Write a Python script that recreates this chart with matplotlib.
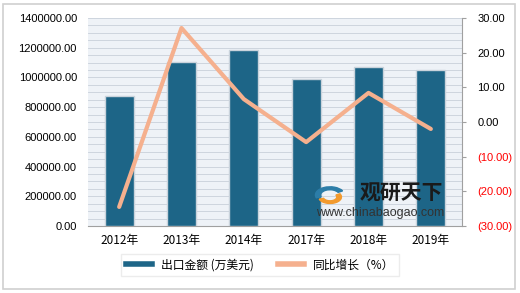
import numpy as np
import matplotlib
matplotlib.use("Agg")
import matplotlib.pyplot as plt
from matplotlib.lines import Line2D
from matplotlib.patches import Wedge

plt.rcParams['font.family'] = ['Noto Sans CJK SC', 'DejaVu Sans']

# data
years = ["2012年", "2013年", "2014年", "2017年", "2018年", "2019年"]
export_value = [875000, 1104000, 1185000, 990000, 1070000, 1050000]   # 出口金额 (万美元)
yoy_growth = [-24.5, 27.1, 6.6, -5.8, 8.4, -2.0]                     # 同比增长 (%)

bar_color = "#1D6587"
line_color = "#F5B08E"
num_font = ['Liberation Sans', 'DejaVu Sans']

fig = plt.figure(figsize=(5.2, 2.93), dpi=100)
# outer frame of the chart
fig.patches.append(plt.Rectangle((0.006, 0.012), 0.985, 0.975, transform=fig.transFigure,
                                 fill=False, edgecolor="#D0D0D0", linewidth=1.2))

ax1 = fig.add_axes([88/520, 1 - 226/293, (462-88)/520, (226-18)/293])
ax1.set_facecolor("#EEF2F7")
x = np.arange(len(years))
ax1.bar(x, export_value, width=0.46, color=bar_color, edgecolor="#C9D3DC", linewidth=1.0, zorder=3)
ax1.set_ylim(0, 1400000)
ax1.set_xlim(-0.5, len(years) - 0.5)
lt = np.arange(0, 1400001, 200000)
ax1.set_yticks(lt)
ax1.set_yticklabels(["{:.2f}".format(v) for v in lt], fontsize=8, family=num_font)
ax1.set_yticks(np.arange(0, 1400001, 50000), minor=True)
ax1.grid(axis='y', which='both', color="#C8D0DA", linewidth=0.6, zorder=0)
ax1.set_xticks(x)
ax1.set_xticklabels(years, fontsize=8.5)
ax1.tick_params(axis='y', length=0, pad=8)
ax1.tick_params(axis='y', which='minor', length=0)
ax1.tick_params(axis='x', length=0, pad=6)
for s in ["top", "right", "left"]:
    ax1.spines[s].set_visible(False)
ax1.spines["bottom"].set_color("#A0A0A0")

ax2 = ax1.twinx()
ax2.plot(x, yoy_growth, color=line_color, linewidth=3, solid_capstyle='round', zorder=4)
ax2.set_ylim(-30, 30)
rt = np.arange(-30, 31, 10)
ax2.set_yticks(rt)
ax2.set_yticklabels(["({:.2f})".format(-v) if v < 0 else "{:.2f}".format(v) for v in rt],
                    fontsize=8, family=num_font)
for lab, v in zip(ax2.get_yticklabels(), rt):
    if v < 0:
        lab.set_color("#FF0000")
ax2.tick_params(axis='y', length=3, color="#A0A0A0", pad=8)
for s in ["top", "left", "bottom"]:
    ax2.spines[s].set_visible(False)
ax2.spines["right"].set_color("#A0A0A0")

# watermark
ax1.text(0.837, 0.159, "观研天下", transform=ax1.transAxes, fontsize=15, fontweight='bold',
         color="#1A1A1A", ha='center', va='center', zorder=6)
ax1.text(0.78, 0.0625, "www.chinabaogao.com", transform=ax1.transAxes, fontsize=9,
         color="#333333", ha='center', va='center', zorder=6, family=num_font)
# small logo: two arcs
logo_c = fig.transFigure.inverted().transform(fig.transFigure.transform((330/520, 1 - 195/293)))
fig.patches.append(Wedge((330/520, 1 - 195/293), 0.028, 30, 200, width=0.01,
                         transform=fig.transFigure, color="#2C7DA8", zorder=6))
fig.patches.append(Wedge((330/520, 1 - 197/293), 0.022, 200, 390, width=0.009,
                         transform=fig.transFigure, color="#F29A2E", zorder=6))

# legend
handles = [Line2D([0], [0], color=bar_color, linewidth=4),
           Line2D([0], [0], color=line_color, linewidth=4)]
fig.legend(handles, ["出口金额 (万美元)", "同比增长（%）"], loc='center', ncol=2,
           bbox_to_anchor=(0.5, 1 - 265/293), fontsize=8.5, frameon=True, fancybox=False,
           edgecolor="#E8E8E8", handlelength=2.2, columnspacing=2.0)

fig.savefig("out.png", dpi=100)
